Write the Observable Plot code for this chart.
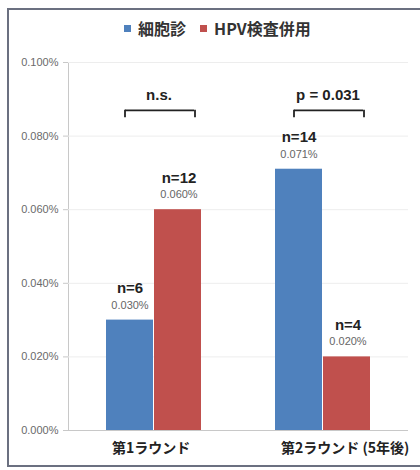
<!DOCTYPE html>
<html>
<head>
<meta charset="utf-8">
<script src="https://cdn.jsdelivr.net/npm/d3@7"></script>
<script src="https://cdn.jsdelivr.net/npm/@observablehq/plot@0.6"></script>
<style>
  html, body { margin: 0; padding: 0; background: #fff; width: 420px; height: 470px; overflow: hidden; }
  #frame { position: absolute; left: 7px; top: 8px; width: 500px; height: 459px; border: 2px solid #6b7080; box-sizing: border-box; }
  #yline { position: absolute; left: 68px; top: 62px; width: 1px; height: 368px; background: #c8c8c8; }
  #chart { position: absolute; left: 0; top: 0; }
  #legend { position: absolute; top: 16px; left: 124px; display: flex; align-items: center;
    font-family: "Noto Sans CJK JP", "Liberation Sans", sans-serif; font-weight: bold; font-size: 16px; color: #333; white-space: nowrap; }
  .sw { width: 7px; height: 7px; display: inline-block; margin-right: 7px; }
  .item { display: flex; align-items: center; margin-right: 14px; }
</style>
</head>
<body>
<div id="frame"></div>
<div id="yline"></div>
<div id="chart"></div>
<div id="legend"></div>
<script>
const rounds = ["第1ラウンド", "第2ラウンド (5年後)"];
const seriesNames = ["細胞診", "HPV検査併用"];
const seriesColors = ["#4f81bd", "#c0504d"];
// detection rates in percent
const cytologyRates = [0.030, 0.071];
const hpvRates = [0.060, 0.020];
const cytologyN = [6, 14];
const hpvN = [12, 4];
const significance = ["n.s.", "p = 0.031"];
const yTicks = [0, 0.02, 0.04, 0.06, 0.08, 0.1];

const rows = [];
rounds.forEach((r, i) => {
  rows.push({round: r, series: seriesNames[0], value: cytologyRates[i], n: cytologyN[i], side: 0});
  rows.push({round: r, series: seriesNames[1], value: hpvRates[i], n: hpvN[i], side: 1});
});
const blue = rows.filter(d => d.side === 0);
const red = rows.filter(d => d.side === 1);
const bracketTop = 0.087, bracketFoot = 0.085;
const brackets = rounds.map((r, i) => ({round: r, label: significance[i], y1: bracketFoot, y2: bracketTop}));

const fmt = v => v.toFixed(3) + "%";
const font = "'Liberation Sans', Arial, sans-serif";

const chart = Plot.plot({
  width: 420,
  height: 470,
  marginLeft: 68,
  marginRight: 12,
  marginTop: 62,
  marginBottom: 40,
  style: {fontFamily: font, background: "transparent", overflow: "visible"},
  x: {domain: rounds, paddingInner: 0.435, paddingOuter: 0.2176, axis: null},
  y: {domain: [0, 0.1], ticks: yTicks, tickFormat: fmt, label: null, grid: false},
  marks: [
    Plot.gridY(yTicks.slice(1), {stroke: "#ededed", strokeOpacity: 1}),
    Plot.barY(blue, {x: "round", y: "value", fill: seriesColors[0], insetRight: 48, insetLeft: 0}),
    Plot.barY(red, {x: "round", y: "value", fill: seriesColors[1], insetLeft: 48, insetRight: 0}),
    Plot.ruleY([0], {stroke: "#c8c8c8"}),
    Plot.axisY(yTicks, {tickFormat: fmt, tickSize: 5, tickPadding: 5, stroke: "#c8c8c8", fill: "#6a6a6a", fontSize: 11, label: null, fontFamily: font}),
    // labels above bars
    Plot.text(blue, {x: "round", y: "value", text: d => "n=" + d.n, dx: -24, dy: -32, fontWeight: "bold", fontSize: 15, fill: "#222"}),
    Plot.text(blue, {x: "round", y: "value", text: d => fmt(d.value), dx: -24, dy: -15, fontSize: 11, fill: "#666"}),
    Plot.text(red, {x: "round", y: "value", text: d => "n=" + d.n, dx: 25, dy: -32, fontWeight: "bold", fontSize: 15, fill: "#222"}),
    Plot.text(red, {x: "round", y: "value", text: d => fmt(d.value), dx: 25, dy: -15, fontSize: 11, fill: "#666"}),
    // brackets
    Plot.tickY(brackets, {x: "round", y: "y2", stroke: "#222", strokeWidth: 1.8, insetLeft: 19, insetRight: 7}),
    Plot.ruleX(brackets, {x: "round", y1: "y1", y2: "y2", dx: -29, stroke: "#222", strokeWidth: 1.8}),
    Plot.ruleX(brackets, {x: "round", y1: "y1", y2: "y2", dx: 41, stroke: "#222", strokeWidth: 1.8}),
    Plot.text(brackets, {x: "round", y: "y2", text: "label", dx: 5, dy: -15, fontWeight: "bold", fontSize: 15, fill: "#222"}),
    // category labels
    Plot.text(rounds, {x: d => d, y: 0, text: d => d, dx: -42, dy: 18, textAnchor: "start", fontWeight: "bold", fontSize: 14, fill: "#222", fontFamily: "'Noto Sans CJK JP', sans-serif"})
  ]
});
document.getElementById("chart").appendChild(chart);

const legend = document.getElementById("legend");
seriesNames.forEach((name, i) => {
  const item = document.createElement("span");
  item.className = "item";
  const sw = document.createElement("span");
  sw.className = "sw";
  sw.style.background = seriesColors[i];
  item.appendChild(sw);
  item.appendChild(document.createTextNode(name));
  legend.appendChild(item);
});
</script>
</body>
</html>
